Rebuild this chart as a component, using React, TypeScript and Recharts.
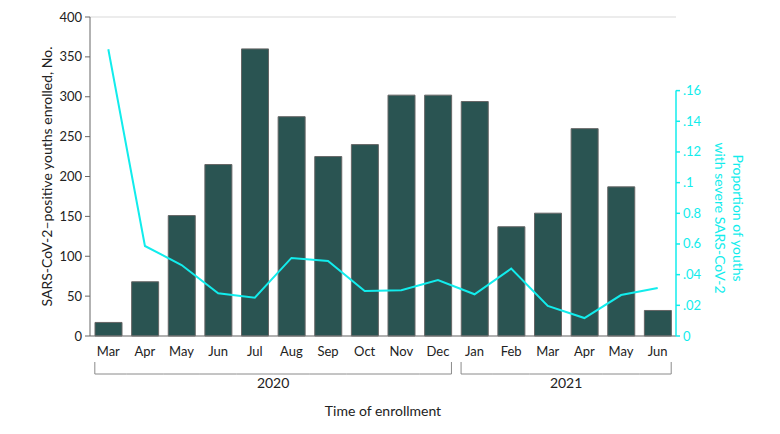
import { ComposedChart, Bar, Line, XAxis, YAxis, CartesianGrid, Label } from "recharts";

const months = ["Mar", "Apr", "May", "Jun", "Jul", "Aug", "Sep", "Oct", "Nov", "Dec", "Jan", "Feb", "Mar", "Apr", "May", "Jun"];
const years = ["2020", "2020", "2020", "2020", "2020", "2020", "2020", "2020", "2020", "2020", "2021", "2021", "2021", "2021", "2021", "2021"];
const enrolled = [17, 68, 151, 215, 360, 275, 225, 240, 302, 302, 294, 137, 154, 260, 187, 32];
const severe = [0.187, 0.0587, 0.0463, 0.0278, 0.025, 0.0509, 0.0489, 0.0294, 0.0298, 0.0365, 0.0272, 0.0439, 0.0196, 0.0117, 0.0267, 0.0313];

const leftTicks = [0, 50, 100, 150, 200, 250, 300, 350, 400];
const rightTicks = [0, 0.02, 0.04, 0.06, 0.08, 0.1, 0.12, 0.14, 0.16];
const rightTickLabels = ["0", ".02", ".04", "0.6", "0.8", ".1", ".12", ".14", ".16"];

const data = months.map((m, i) => ({
    key: `${m}-${years[i]}`,
    month: m,
    year: years[i],
    enrolled: enrolled[i],
    severe: severe[i],
}));

const W = 780;
const H = 434;
const TOP = 17;
const LEFT_W = 90;
const RIGHT_W = 104;
const X_H = 98;
const PLOT_BOTTOM = H - X_H;
const BAND = (W - LEFT_W - RIGHT_W) / months.length;
const BAR = 27;

const FONT = "Lato, 'Liberation Sans', sans-serif";
const CYAN = "#12ecec";
const GRAY = "#8a8a8a";

function MonthTick(props: any) {
    const { x, y, index } = props;
    const d = data[index];
    const prev = data[index - 1];
    const next = data[index + 1];
    const first = !prev || prev.year !== d.year;
    const last = !next || next.year !== d.year;
    const x1 = first ? x - BAR / 2 : x - BAND / 2;
    const x2 = last ? x + BAR / 2 : x + BAND / 2;
    const by = y + 38;
    // year label sits in the middle of its group
    const group = data.filter((r) => r.year === d.year);
    const start = data.findIndex((r) => r.year === d.year);
    const mid = start + (group.length - 1) / 2;
    const showYear = Math.floor(mid) === index;
    return (
        <g>
            <text x={x} y={y + 20} textAnchor="middle" fontSize={13} fontFamily={FONT} fill="#222">
                {d.month}
            </text>
            <line x1={x1} x2={x2} y1={by} y2={by} stroke={GRAY} />
            {first && <line x1={x1} x2={x1} y1={by - 12} y2={by} stroke={GRAY} />}
            {last && <line x1={x2} x2={x2} y1={by - 12} y2={by} stroke={GRAY} />}
            {showYear && (
                <text
                    x={x + (mid - index) * BAND}
                    y={by + 14}
                    textAnchor="middle"
                    fontSize={14}
                    fontFamily={FONT}
                    fill="#222"
                >
                    {d.year}
                </text>
            )}
        </g>
    );
}

function RightTick(props: any) {
    const { x, y, index, payload } = props;
    const axisX = x - 7;
    return (
        <g>
            {payload.value === 0.16 && (
                <line x1={axisX} x2={axisX} y1={y} y2={PLOT_BOTTOM} stroke={CYAN} strokeWidth={1.5} />
            )}
            <text x={x} y={y} dy={4.5} textAnchor="start" fontSize={13} fontFamily={FONT} fill={CYAN}>
                {rightTickLabels[index]}
            </text>
        </g>
    );
}

function RightLabel(props: any) {
    const { viewBox } = props;
    const cx = viewBox.x + 52;
    const cy = 218;
    return (
        <text
            x={cx}
            y={cy}
            transform={`rotate(90 ${cx} ${cy})`}
            textAnchor="middle"
            fontSize={14}
            fontFamily={FONT}
            fill={CYAN}
        >
            <tspan x={cx} dy={-5}>Proportion of youths</tspan>
            <tspan x={cx} dy={18}>with severe SARS-CoV-2</tspan>
        </text>
    );
}

export default function App() {
    return (
        <div style={{ position: "absolute", left: 0, top: 0, background: "#fff" }}>
            <ComposedChart
                width={W}
                height={H}
                data={data}
                margin={{ top: TOP, right: 0, bottom: 0, left: 0 }}
                barCategoryGap={0}
            >
                <CartesianGrid vertical={false} stroke="#d9d9d9" />
                <XAxis
                    dataKey="key"
                    height={X_H}
                    tick={<MonthTick />}
                    tickLine={false}
                    tickSize={0}
                    tickMargin={0}
                    interval={0}
                    stroke="#777"
                >
                    <Label
                        value="Time of enrollment"
                        position="insideBottom"
                        offset={18}
                        fontSize={14}
                        fontFamily={FONT}
                        fill="#222"
                    />
                </XAxis>
                <YAxis
                    yAxisId="left"
                    width={LEFT_W}
                    domain={[0, 400]}
                    ticks={leftTicks}
                    tickSize={5}
                    tickMargin={3}
                    stroke="#666"
                    tick={{ fontSize: 13, fontFamily: FONT, fill: "#222" }}
                >
                    <Label
                        value="SARS-CoV-2–positive youths enrolled, No."
                        angle={-90}
                        position="center"
                        dx={2}
                        fontSize={14}
                        fontFamily={FONT}
                        fill="#222"
                    />
                </YAxis>
                <YAxis
                    yAxisId="right"
                    orientation="right"
                    width={RIGHT_W}
                    domain={[0, 0.208]}
                    ticks={rightTicks}
                    axisLine={false}
                    tickSize={4}
                    tickMargin={3}
                    tickLine={{ stroke: CYAN, strokeWidth: 1.5 }}
                    tick={<RightTick />}
                    label={<RightLabel />}
                />
                <Bar
                    yAxisId="left"
                    dataKey="enrolled"
                    barSize={BAR}
                    fill="#2a5452"
                    stroke="#666"
                    strokeWidth={1}
                    isAnimationActive={false}
                />
                <Line
                    yAxisId="right"
                    dataKey="severe"
                    type="linear"
                    stroke={CYAN}
                    strokeWidth={2}
                    dot={false}
                    isAnimationActive={false}
                />
            </ComposedChart>
        </div>
    );
}
